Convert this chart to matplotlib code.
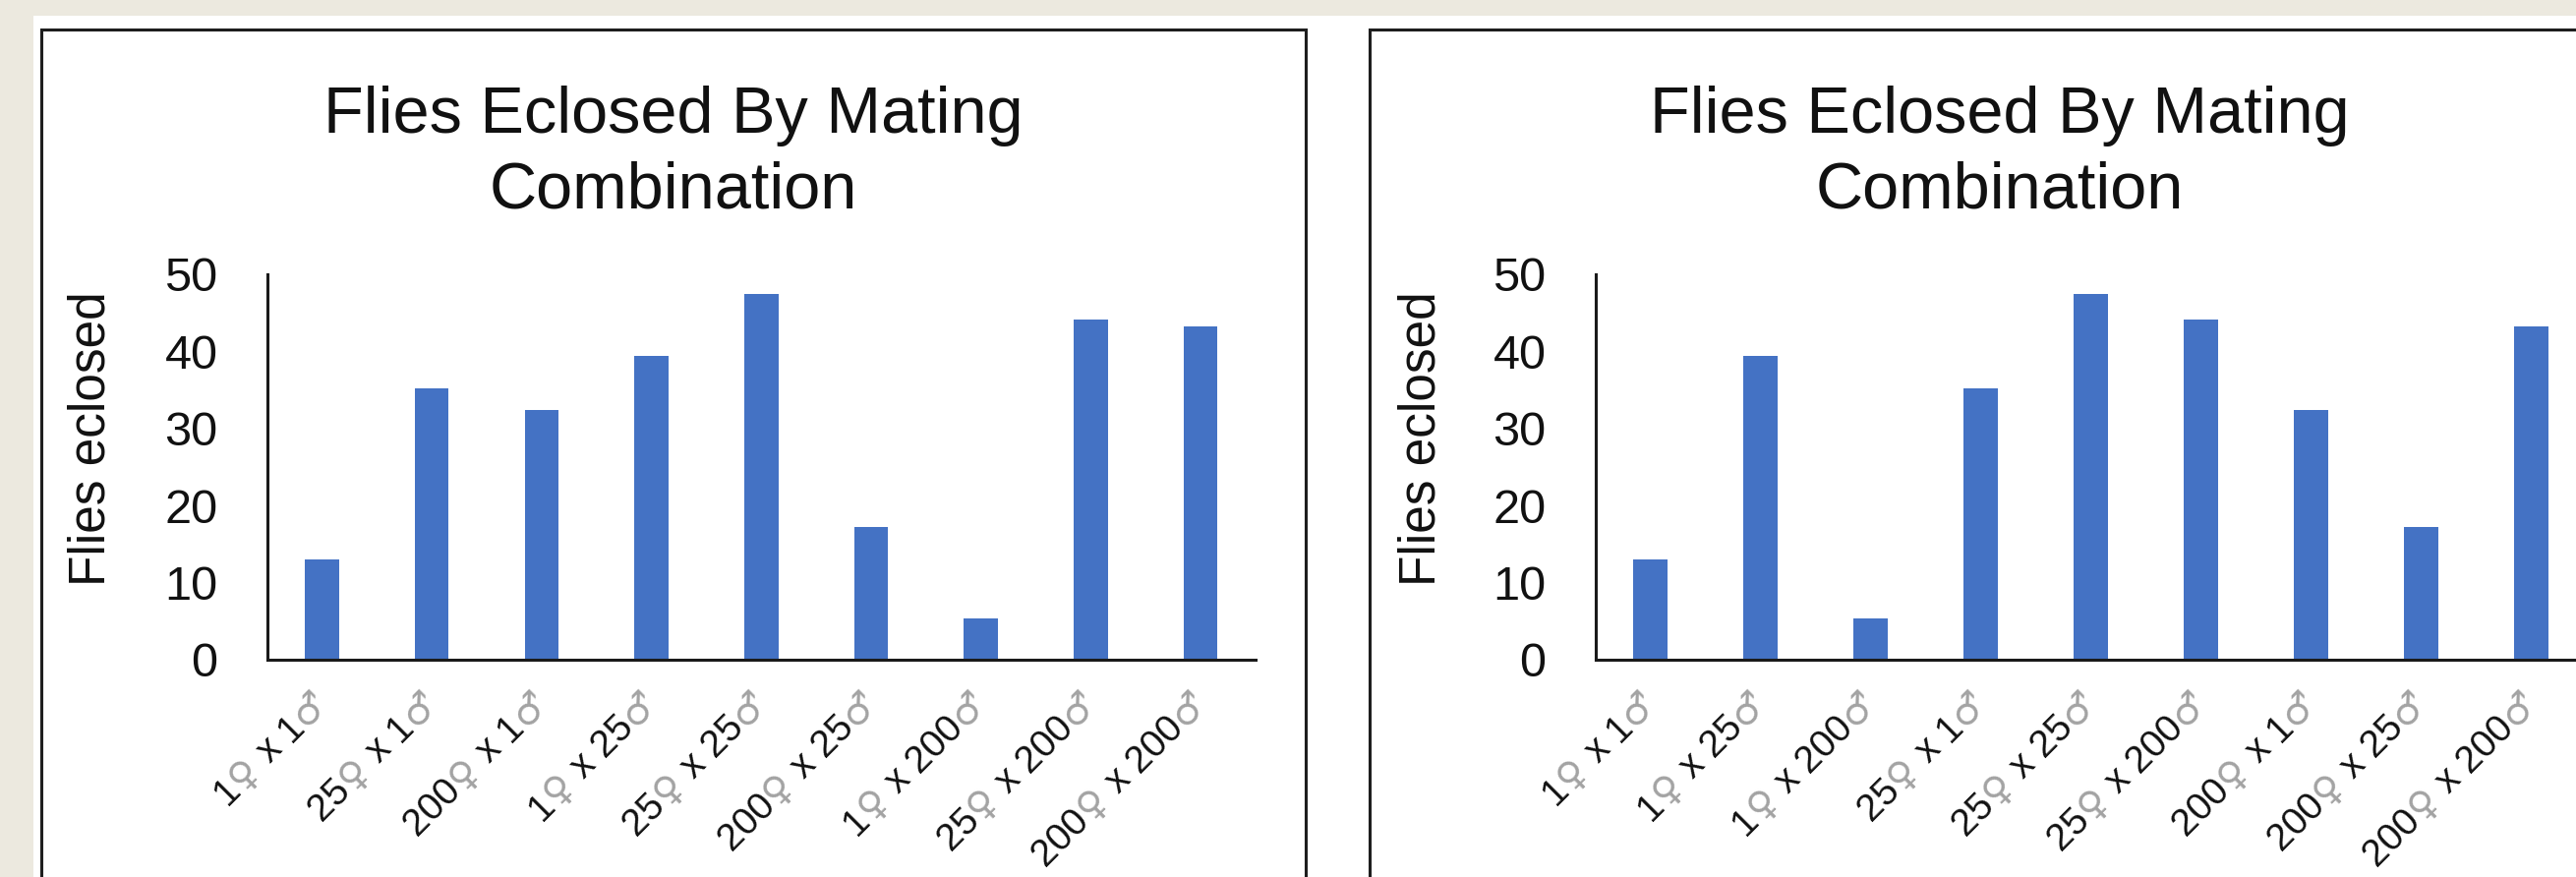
import matplotlib
matplotlib.use("Agg")
import matplotlib.pyplot as plt
from matplotlib.patches import Rectangle
from matplotlib.transforms import IdentityTransform
from matplotlib.font_manager import FontProperties
import numpy as np

plt.rcParams['font.family'] = ['Liberation Sans', 'DejaVu Sans']

# ---- chart content ----
TITLE_LINES = ["Flies Eclosed By Mating", "Combination"]
Y_LABEL = "Flies eclosed"
Y_TICKS = [0, 10, 20, 30, 40, 50]

# left slide: grouped by male count
left_females = ["1", "25", "200", "1", "25", "200", "1", "25", "200"]
left_males = ["1", "1", "1", "25", "25", "25", "200", "200", "200"]
left_counts = [13, 35.2, 32.4, 39.4, 47.4, 17.2, 5.4, 44.1, 43.2]

# right slide: grouped by female count
right_females = ["1", "1", "1", "25", "25", "25", "200", "200", "200"]
right_males = ["1", "25", "200", "1", "25", "200", "1", "25", "200"]
right_counts = [13, 39.4, 5.4, 35.2, 47.4, 44.1, 32.4, 17.2, 43.2]

# ---- styling ----
W, H, DPI = 2620, 892, 100
BEIGE = "#ECE9DF"
BLUE = "#4472C4"
INK = "#111111"
SYMBOL_GREY = "#a3a3a3"
LABEL_SIZE = 28


def fx(x):
    return x / W


def fy(y):
    return 1 - y / H


fig = plt.figure(figsize=(W / DPI, H / DPI), dpi=DPI)
fig.patch.set_facecolor("white")

# slide backdrop strips and slide frames
fig.add_artist(Rectangle((0, fy(16)), 1, 16 / H, transform=fig.transFigure,
                         facecolor=BEIGE, edgecolor="none", zorder=0))
fig.add_artist(Rectangle((0, 0), 34 / W, 1, transform=fig.transFigure,
                         facecolor=BEIGE, edgecolor="none", zorder=0))
fig.add_artist(Rectangle((fx(42), fy(920)), (1328 - 42) / W, (920 - 30) / H,
                         transform=fig.transFigure, fill=False,
                         edgecolor="#1e1e1e", linewidth=2.2, zorder=0.5))
fig.add_artist(Rectangle((fx(1393), fy(920)), 1400 / W, (920 - 30) / H,
                         transform=fig.transFigure, fill=False,
                         edgecolor="#1e1e1e", linewidth=2.2, zorder=0.5))


def make_panel(left_px, width_px, counts, center_px, ylabel_px):
    ax = fig.add_axes([fx(left_px), fy(671), width_px / W, 392 / H])
    ax.set_facecolor("none")
    x = np.arange(len(counts))
    ax.bar(x, counts, width=0.31, color=BLUE, zorder=2)
    ax.set_xlim(-0.5, len(counts) - 0.5)
    ax.set_ylim(0, 50)
    ax.set_yticks(Y_TICKS)
    ax.set_xticks([])
    ax.tick_params(axis="y", length=0, pad=36, labelsize=35, labelcolor=INK)
    for side in ("top", "right"):
        ax.spines[side].set_visible(False)
    for side in ("left", "bottom"):
        ax.spines[side].set_linewidth(2.2)
        ax.spines[side].set_color("#1a1a1a")
    fig.text(fx(center_px), fy(135), TITLE_LINES[0], ha="center",
             va="baseline", fontsize=48, color=INK)
    fig.text(fx(center_px), fy(212), TITLE_LINES[1], ha="center",
             va="baseline", fontsize=48, color=INK)
    fig.text(fx(ylabel_px), fy(446), Y_LABEL, rotation=90, ha="center",
             va="center", fontsize=37, color=INK)
    return ax


renderer = fig.canvas.get_renderer()
num_prop = FontProperties(family=['Liberation Sans'], size=LABEL_SIZE)
sym_prop = FontProperties(family=['DejaVu Sans'], size=LABEL_SIZE)


def text_width(s, prop):
    w, _, _ = renderer.get_text_width_height_descent(s, prop, ismath=False)
    return w


def advance(s, prop):
    # advance width of s, including its side bearings
    bar = "|"
    return text_width(bar + s + bar, prop) - text_width(bar + bar, prop)


def cross_labels(ax, females, males, dx=8, dy=-45):
    ux, uy = np.cos(np.radians(45)), np.sin(np.radians(45))
    for i, (f, m) in enumerate(zip(females, males)):
        pieces = [(f, INK, num_prop), ("\u2640", SYMBOL_GREY, sym_prop),
                  (" ", None, num_prop), ("x", INK, num_prop),
                  (" ", None, num_prop), (m, INK, num_prop),
                  ("\u2642", SYMBOL_GREY, sym_prop)]
        advs = [advance(p, pr) for p, _, pr in pieces]
        total = sum(advs)
        tx, ty = ax.transData.transform((i, 0))
        ex, ey = tx + dx, ty + dy
        sx, sy = ex - total * ux, ey - total * uy
        pos = 0.0
        for (p, col, pr), a in zip(pieces, advs):
            if col is not None:
                fig.text(sx + pos * ux, sy + pos * uy, p, color=col,
                         fontproperties=pr, rotation=45,
                         rotation_mode="anchor", ha="left", va="baseline",
                         transform=IdentityTransform())
            pos += a


ax_left = make_panel(271.6, 1005.4, left_counts, 685, 93)
ax_right = make_panel(1622.5, 1008, right_counts, 2034, 1446)
cross_labels(ax_left, left_females, left_males)
cross_labels(ax_right, right_females, right_males)

fig.savefig("out.png", dpi=DPI, facecolor=fig.get_facecolor())
